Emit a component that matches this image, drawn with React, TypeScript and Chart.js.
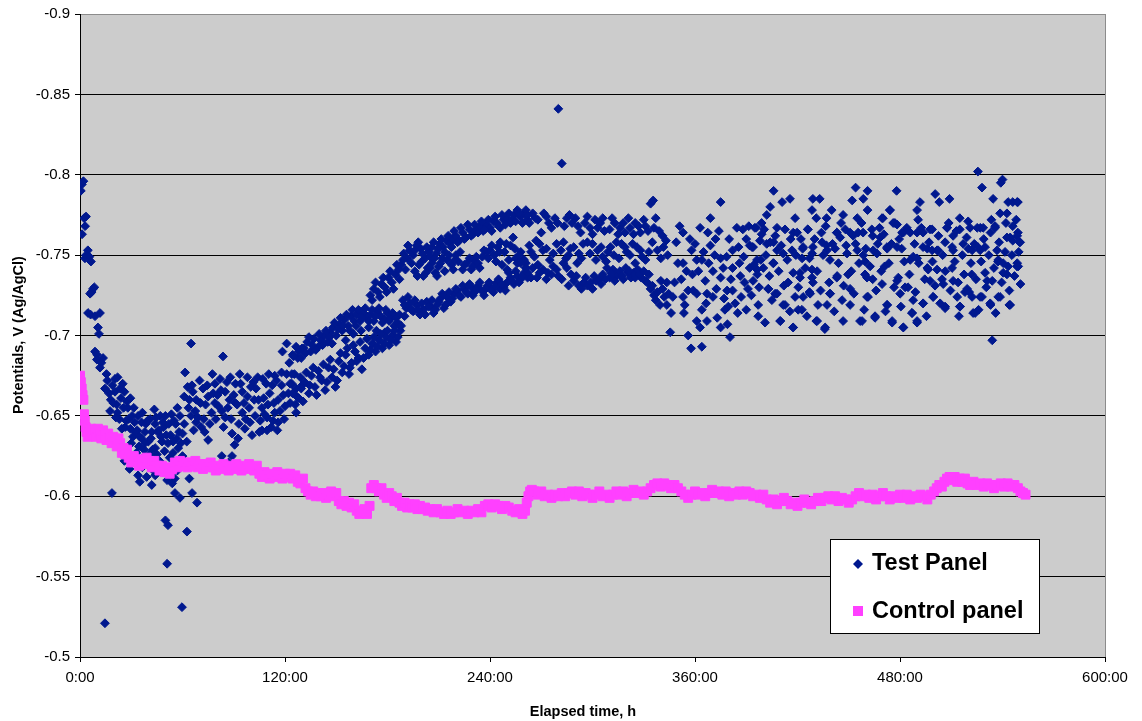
import React, { useEffect, useRef } from "react";
import { Chart, registerables } from "chart.js";

Chart.register(...registerables);

type Pt = [number, number];

// Elapsed time (h), potential (V vs Ag/AgCl)
const testStart: Pt[] = [
  [1.1,-0.794],[0.5,-0.790],[2.0,-0.796],[2.4,-0.773],[3.5,-0.774],[3.0,-0.768],[1.2,-0.763],[4.6,-0.753],
  [3.5,-0.750],[2.9,-0.748],[5.5,-0.749],[6.4,-0.746],[7.6,-0.729],[6.8,-0.727],[5.9,-0.726],[8.4,-0.730],
  [4.7,-0.714],[6.2,-0.713],[8.8,-0.712],[11.7,-0.714],[10.5,-0.705],[11.1,-0.701],[8.8,-0.690],[10.0,-0.688],
  [13.5,-0.686],[9.9,-0.685],[11.7,-0.680],[12.5,-0.683],
];

const testDip: Pt[] = [
  [14.6,-0.667],[22.0,-0.674],[25.0,-0.670],[20.5,-0.665],[24.0,-0.661],[28.0,-0.655],[17.6,-0.653],[22.0,-0.652],
  [27.0,-0.647],[32.0,-0.646],[36.0,-0.646],[29.5,-0.642],[38.0,-0.640],[47.0,-0.650],[44.0,-0.645],[42.0,-0.640],
  [45.5,-0.640],[36.0,-0.636],[40.0,-0.634],[44.0,-0.630],[48.0,-0.634],[54.5,-0.634],[60.0,-0.639],[57.5,-0.630],
  [60.0,-0.625],[29.0,-0.617],[34.0,-0.613],[35.0,-0.609],[42.0,-0.607],[39.0,-0.612],[44.0,-0.613],[18.7,-0.602],
  [54.0,-0.608],[55.5,-0.611],[55.6,-0.602],[58.5,-0.599],[64.0,-0.611],[65.6,-0.602],[68.5,-0.596],[50.0,-0.585],
  [51.5,-0.582],[62.6,-0.578],[51.0,-0.558],[59.7,-0.531],[14.6,-0.521],
  [16.0,-0.672],[19.0,-0.669],[18.0,-0.660],[21.5,-0.657],[25.5,-0.655],[23.0,-0.648],[26.5,-0.643],[30.5,-0.650],
  [33.5,-0.641],[31.0,-0.637],[34.5,-0.631],[37.5,-0.629],[40.5,-0.626],[38.5,-0.645],[41.0,-0.648],[43.5,-0.654],
  [46.0,-0.641],[49.0,-0.643],[50.5,-0.638],[52.0,-0.645],[53.5,-0.651],[56.0,-0.645],[58.0,-0.640],[49.5,-0.628],
  [52.5,-0.624],[46.5,-0.622],[32.5,-0.620],[36.5,-0.618],[45.5,-0.618],[48.5,-0.615],[51.0,-0.610],[57.0,-0.616],
  [62.0,-0.620],[26.0,-0.622],[65.0,-0.695],[83.7,-0.687],
];

const testFillDip: Pt[] = [
  [15.5,-0.676],[17.0,-0.664],[19.5,-0.658],[20.5,-0.673],[21.0,-0.649],[23.5,-0.667],[24.5,-0.642],[26.0,-0.665],
  [27.5,-0.659],[28.5,-0.648],[29.5,-0.661],[30.0,-0.633],[31.5,-0.655],[32.5,-0.640],[33.0,-0.627],[34.0,-0.650],
  [35.0,-0.637],[36.5,-0.652],[37.0,-0.624],[38.0,-0.633],[39.5,-0.647],[40.0,-0.619],[41.5,-0.636],[42.5,-0.629],
  [43.0,-0.616],[44.5,-0.649],[45.0,-0.626],[47.5,-0.637],[48.5,-0.646],[50.0,-0.650],[51.5,-0.633],[53.0,-0.638],
  [54.5,-0.627],[55.0,-0.647],[56.5,-0.636],[58.5,-0.650],[59.0,-0.633],[61.0,-0.645],[62.5,-0.634],[63.5,-0.655],
];

const testRecovery: Pt[] = [
  [65.5,-0.669],[72.0,-0.667],[75.0,-0.662],[79.0,-0.670],[82.0,-0.673],[85.0,-0.665],[91.0,-0.670],[95.0,-0.665],
  [98.0,-0.674],[104.0,-0.674],[109.0,-0.670],[114.0,-0.675],[118.0,-0.669],[122.0,-0.664],[127.0,-0.662],[130.0,-0.669],
  [61.0,-0.662],[57.0,-0.655],[65.0,-0.650],[68.0,-0.646],[71.0,-0.643],[75.0,-0.635],[79.0,-0.658],[83.0,-0.653],
  [85.0,-0.649],[91.0,-0.658],[89.0,-0.639],[92.5,-0.636],[95.0,-0.652],[98.0,-0.662],[102.0,-0.660],[106.5,-0.655],
  [109.5,-0.649],[106.5,-0.641],[100.7,-0.638],[114.0,-0.652],[116.0,-0.646],[112.0,-0.643],[83.0,-0.625],[89.0,-0.625],
  [87.0,-0.621],[61.5,-0.677],[118.0,-0.677],[113.0,-0.647],[109.5,-0.641],[105.0,-0.640],
  [68.0,-0.660],[73.5,-0.657],[77.0,-0.652],[80.5,-0.663],[87.5,-0.660],[93.0,-0.645],[97.0,-0.648],[100.0,-0.668],
  [103.0,-0.667],[107.0,-0.673],[111.0,-0.664],[116.0,-0.660],[120.0,-0.656],[124.0,-0.670],[70.0,-0.672],[77.5,-0.676],
  [88.0,-0.674],[93.5,-0.676],[63.0,-0.668],[66.5,-0.641],
  [118.5,-0.690],[121.0,-0.695],[124.5,-0.688],[127.5,-0.686],[130.0,-0.692],[122.5,-0.683],
];

const testFillRecovery: Pt[] = [
  [64.0,-0.660],[66.0,-0.665],[67.5,-0.653],[69.0,-0.649],[70.5,-0.658],[72.5,-0.648],[73.0,-0.640],[74.5,-0.669],
  [76.0,-0.645],[78.0,-0.664],[79.5,-0.648],[81.0,-0.656],[82.5,-0.666],[84.0,-0.643],[86.0,-0.671],[86.5,-0.655],
  [88.5,-0.648],[90.0,-0.663],[90.5,-0.632],[92.0,-0.657],[94.0,-0.670],[96.0,-0.658],[96.5,-0.642],[99.0,-0.655],
  [99.5,-0.646],[101.5,-0.671],[102.5,-0.650],[104.5,-0.660],[105.5,-0.647],[107.5,-0.661],[108.0,-0.651],[110.0,-0.657],
  [110.5,-0.676],[112.5,-0.669],[113.5,-0.658],[115.0,-0.672],[115.5,-0.641],[117.0,-0.653],[119.0,-0.663],[119.5,-0.648],
  [121.0,-0.676],[123.0,-0.658],[125.5,-0.676],[126.5,-0.652],
];

const testRise: Pt[] = [
  [125.0,-0.687],[128.0,-0.690],[131.0,-0.692],[133.0,-0.696],[135.0,-0.690],[137.0,-0.698],[139.5,-0.693],[141.0,-0.697],
  [143.0,-0.700],[145.0,-0.696],[146.5,-0.702],[148.0,-0.705],[150.0,-0.700],[152.0,-0.707],[153.5,-0.703],[155.0,-0.710],
  [157.0,-0.706],[158.5,-0.712],[160.5,-0.709],[162.0,-0.713],[164.0,-0.709],[166.0,-0.714],[168.0,-0.711],[170.0,-0.713],
  [172.0,-0.709],[174.0,-0.715],[176.0,-0.712],[178.0,-0.710],[180.0,-0.714],[182.0,-0.711],[184.0,-0.706],[186.0,-0.708],
  [187.5,-0.703],[155.5,-0.697],[160.0,-0.701],[164.5,-0.703],[169.0,-0.705],[173.5,-0.703],[178.5,-0.702],[183.0,-0.700],
  [187.0,-0.706],
  [123.0,-0.670],[124.5,-0.664],[126.0,-0.657],[128.0,-0.661],[129.5,-0.667],[131.5,-0.671],[134.0,-0.664],[135.5,-0.675],
  [137.5,-0.668],[139.5,-0.678],[141.5,-0.672],[143.5,-0.666],[145.5,-0.680],[147.5,-0.674],[149.5,-0.668],[151.5,-0.684],
  [153.5,-0.677],[155.5,-0.688],[157.5,-0.676],[159.0,-0.683],[161.0,-0.690],[163.0,-0.686],[165.0,-0.679],[167.0,-0.692],
  [169.0,-0.688],[171.0,-0.695],[173.0,-0.690],[175.0,-0.697],[177.0,-0.692],[179.0,-0.699],[181.0,-0.694],[183.0,-0.700],
  [185.0,-0.696],
  [170.0,-0.725],[172.0,-0.729],[174.5,-0.727],[176.5,-0.732],[178.5,-0.730],[180.5,-0.736],[182.5,-0.733],[184.5,-0.738],
  [186.5,-0.741],[188.0,-0.744],[189.5,-0.751],[191.5,-0.748],[193.0,-0.753],
];

const testFillRise: Pt[] = [
  [126.5,-0.693],[129.5,-0.686],[132.0,-0.689],[134.0,-0.699],[136.0,-0.694],[138.0,-0.691],[140.0,-0.701],[142.0,-0.694],
  [144.0,-0.703],[146.0,-0.699],[147.5,-0.695],[149.0,-0.708],[151.0,-0.704],[152.5,-0.711],[154.0,-0.706],[156.0,-0.713],
  [158.0,-0.703],[159.5,-0.716],[161.5,-0.706],[163.0,-0.716],[165.0,-0.711],[167.0,-0.717],[169.0,-0.709],[171.0,-0.716],
  [173.0,-0.712],[175.0,-0.717],[177.0,-0.708],[179.0,-0.716],[181.0,-0.709],[183.0,-0.714],[185.0,-0.711],[187.0,-0.713],
  [124.0,-0.676],[126.5,-0.667],[129.0,-0.674],[130.5,-0.659],[132.5,-0.677],[134.5,-0.669],[136.5,-0.680],[138.5,-0.663],
  [140.5,-0.674],[142.5,-0.682],[144.5,-0.671],[146.5,-0.685],[148.5,-0.679],[150.5,-0.672],[152.5,-0.689],[154.5,-0.681],
  [156.5,-0.692],[158.0,-0.680],[160.0,-0.694],[162.0,-0.684],[164.0,-0.696],[166.0,-0.686],[168.0,-0.698],[170.0,-0.691],
  [172.0,-0.699],[174.0,-0.693],[176.0,-0.701],[178.0,-0.695],[180.0,-0.703],[182.0,-0.697],[184.0,-0.703],[186.0,-0.699],
  [188.0,-0.706],[190.0,-0.712],
  [171.0,-0.722],[173.0,-0.733],[175.5,-0.724],[177.5,-0.736],[179.5,-0.727],[181.5,-0.740],[183.5,-0.729],[185.5,-0.744],
  [187.0,-0.735],[189.0,-0.747],[190.5,-0.741],[192.0,-0.756],[194.0,-0.745],
];

const testBands: Pt[] = [
  [195.0,-0.750],[197.0,-0.756],[199.5,-0.754],[202.0,-0.748],[204.0,-0.752],[206.0,-0.755],[208.5,-0.751],[210.5,-0.757],
  [212.5,-0.755],[214.5,-0.759],[216.5,-0.757],[218.0,-0.760],[220.0,-0.762],[222.0,-0.759],[224.0,-0.764],[226.0,-0.761],
  [228.0,-0.766],[230.0,-0.763],[232.0,-0.766],[234.0,-0.768],[236.0,-0.765],[238.0,-0.769],[240.0,-0.767],[242.0,-0.771],
  [244.0,-0.770],[246.0,-0.767],[248.0,-0.772],[250.0,-0.773],[252.0,-0.770],[254.0,-0.775],[256.0,-0.778],[258.0,-0.774],
  [260.0,-0.776],[262.0,-0.772],
  [196.0,-0.740],[198.5,-0.744],[201.0,-0.737],[203.5,-0.742],[206.0,-0.745],[208.0,-0.739],[210.0,-0.743],[212.0,-0.748],
  [215.0,-0.747],[217.5,-0.744],[220.0,-0.750],[221.5,-0.746],[224.0,-0.741],[226.5,-0.745],[229.0,-0.741],[231.0,-0.746],
  [233.0,-0.745],[235.5,-0.749],[238.0,-0.752],[240.0,-0.753],[242.5,-0.750],[244.5,-0.755],[246.0,-0.758],[248.5,-0.752],
  [250.0,-0.741],[252.0,-0.756],[253.5,-0.761],[255.0,-0.748],[256.0,-0.745],[258.0,-0.752],[259.5,-0.747],
  [189.0,-0.722],[191.0,-0.717],[193.0,-0.720],[195.0,-0.715],[197.0,-0.719],[199.0,-0.713],[201.0,-0.716],[203.0,-0.721],
  [205.0,-0.718],[207.0,-0.714],[209.0,-0.719],[211.0,-0.723],[213.0,-0.717],[215.0,-0.724],[217.0,-0.721],[219.0,-0.726],
  [221.0,-0.728],[223.0,-0.724],[225.0,-0.729],[227.0,-0.726],[229.0,-0.730],[231.0,-0.727],[233.0,-0.731],[235.0,-0.728],
  [236.5,-0.725],[238.5,-0.731],[240.0,-0.730],[242.0,-0.727],[244.0,-0.733],[246.0,-0.729],[248.0,-0.730],[250.0,-0.733],
  [252.0,-0.736],[254.0,-0.732],[256.0,-0.737],[258.0,-0.735],[260.0,-0.739],[262.0,-0.736],
];

const testFillBands: Pt[] = [
  [196.0,-0.753],[198.0,-0.758],[200.5,-0.751],[203.0,-0.755],[205.0,-0.749],[207.0,-0.758],[209.5,-0.754],[211.5,-0.760],
  [213.5,-0.752],[215.5,-0.762],[217.5,-0.755],[219.0,-0.765],[221.0,-0.758],[223.0,-0.767],[225.0,-0.760],[227.0,-0.769],
  [229.0,-0.762],[231.0,-0.769],[233.0,-0.764],[235.0,-0.771],[237.0,-0.766],[239.0,-0.772],[241.0,-0.765],[243.0,-0.774],
  [245.0,-0.768],[247.0,-0.775],[249.0,-0.769],[251.0,-0.776],[253.0,-0.772],[255.0,-0.771],[257.0,-0.775],[259.0,-0.770],
  [261.0,-0.778],
  [197.5,-0.737],[200.0,-0.746],[202.5,-0.739],[205.0,-0.742],[207.5,-0.748],[209.0,-0.737],[211.0,-0.745],[213.5,-0.740],
  [216.0,-0.750],[218.5,-0.741],[219.5,-0.747],[222.5,-0.752],[225.0,-0.744],[228.0,-0.748],[230.0,-0.743],[232.0,-0.749],
  [234.0,-0.742],[236.5,-0.753],[239.0,-0.748],[241.0,-0.756],[243.5,-0.746],[245.5,-0.752],[247.0,-0.744],[249.5,-0.757],
  [251.0,-0.747],[254.5,-0.754],[257.0,-0.750],[261.0,-0.745],
  [190.0,-0.719],[192.0,-0.724],[194.0,-0.716],[196.0,-0.722],[198.0,-0.716],[200.0,-0.720],[202.0,-0.713],[204.0,-0.718],
  [206.0,-0.722],[208.0,-0.716],[210.0,-0.721],[212.0,-0.726],[214.0,-0.719],[216.0,-0.727],[218.0,-0.723],[220.0,-0.729],
  [222.0,-0.725],[224.0,-0.731],[226.0,-0.727],[228.0,-0.732],[230.0,-0.725],[232.0,-0.729],[234.0,-0.733],[237.5,-0.729],
  [239.5,-0.733],[241.0,-0.728],[243.0,-0.731],[245.0,-0.735],[247.0,-0.732],[249.0,-0.728],[251.0,-0.739],[253.0,-0.734],
  [255.0,-0.740],[257.0,-0.733],[259.0,-0.737],[261.0,-0.742],
];

const testPeak: Pt[] = [
  [280.0,-0.841],[282.0,-0.807],
  [257.0,-0.776],[262.0,-0.775],[265.0,-0.776],[268.0,-0.772],[270.0,-0.764],[273.0,-0.774],[276.0,-0.767],[278.0,-0.773],
  [285.0,-0.773],[288.0,-0.770],[290.0,-0.773],[293.0,-0.764],[295.5,-0.770],[298.5,-0.767],[301.5,-0.772],[304.5,-0.770],
  [307.0,-0.765],[310.0,-0.766],[313.0,-0.770],[316.0,-0.767],[319.0,-0.764],[322.0,-0.767],[325.0,-0.770],[328.0,-0.764],
  [331.0,-0.768],[334.0,-0.782],[335.5,-0.784],[337.0,-0.773],[336.0,-0.767],[341.0,-0.762],[339.0,-0.765],
  [260.0,-0.747],[264.0,-0.752],[267.0,-0.759],[269.0,-0.757],[271.0,-0.753],[275.0,-0.747],[279.0,-0.757],[281.5,-0.753],
  [284.5,-0.748],[287.0,-0.754],[289.0,-0.755],[292.0,-0.751],[294.5,-0.757],[297.0,-0.758],[300.0,-0.757],[303.0,-0.753],
  [306.0,-0.749],[309.0,-0.752],[310.5,-0.755],[314.0,-0.758],[317.0,-0.757],[320.0,-0.752],[323.5,-0.757],[326.0,-0.755],
  [329.0,-0.749],[331.0,-0.747],[333.0,-0.752],[338.0,-0.753],[341.5,-0.755],[344.0,-0.750],
  [258.0,-0.745],[262.0,-0.739],[265.0,-0.742],[267.5,-0.736],[271.0,-0.741],[274.0,-0.739],[277.0,-0.743],[280.0,-0.737],
  [283.0,-0.745],[285.0,-0.742],[287.5,-0.738],[289.0,-0.734],[292.0,-0.731],[295.0,-0.733],[297.0,-0.731],[300.0,-0.729],
  [302.0,-0.734],[304.0,-0.735],[306.0,-0.738],[308.5,-0.742],[310.0,-0.736],[312.0,-0.741],[314.0,-0.737],[316.0,-0.740],
  [318.0,-0.735],[320.5,-0.739],[322.5,-0.736],[324.0,-0.739],[326.5,-0.741],[328.5,-0.736],[331.0,-0.734],[333.0,-0.738],
  [334.0,-0.729],[336.0,-0.725],[338.0,-0.727],[340.0,-0.734],[343.5,-0.733],[339.5,-0.719],[343.5,-0.719],[342.0,-0.724],
  [345.5,-0.702],
];

const testFillPeak: Pt[] = [
  [263.0,-0.770],[266.5,-0.773],[271.5,-0.776],[274.5,-0.770],[279.5,-0.770],[283.5,-0.768],[286.5,-0.775],[291.5,-0.768],
  [297.0,-0.774],[300.0,-0.763],[303.0,-0.767],[306.0,-0.773],[311.5,-0.773],[315.0,-0.763],[318.0,-0.770],[321.0,-0.773],
  [324.0,-0.763],[327.0,-0.768],[330.0,-0.772],[332.5,-0.765],
  [263.0,-0.756],[266.0,-0.749],[268.0,-0.744],[273.0,-0.754],[277.0,-0.751],[283.0,-0.758],[286.0,-0.750],[291.0,-0.745],
  [293.5,-0.748],[298.5,-0.751],[302.0,-0.747],[305.0,-0.755],[308.0,-0.746],[312.5,-0.750],[315.5,-0.748],[319.0,-0.755],
  [322.0,-0.750],[325.0,-0.745],[328.0,-0.753],[335.0,-0.758],[340.0,-0.748],[343.0,-0.759],
  [261.0,-0.742],[264.0,-0.736],[269.0,-0.739],[273.0,-0.735],[276.0,-0.738],[279.0,-0.741],[282.0,-0.735],[286.0,-0.731],
  [290.5,-0.737],[293.5,-0.729],[296.0,-0.736],[299.0,-0.733],[301.0,-0.737],[305.0,-0.732],[307.5,-0.735],[311.0,-0.739],
  [313.0,-0.734],[317.0,-0.737],[319.5,-0.742],[321.5,-0.740],[325.0,-0.736],[327.5,-0.738],[330.0,-0.740],[332.0,-0.733],
  [335.0,-0.731],[337.0,-0.722],[341.0,-0.729],[344.5,-0.726],
];

const testScatterA: Pt[] = [
  [353.0,-0.764],[363.0,-0.767],[367.5,-0.764],[369.0,-0.773],[375.0,-0.783],[369.0,-0.756],[358.0,-0.753],[364.0,-0.747],
  [353.0,-0.745],[355.0,-0.740],[361.0,-0.747],[375.0,-0.748],[378.5,-0.749],[382.0,-0.753],[384.5,-0.767],[388.0,-0.766],
  [392.0,-0.756],[394.0,-0.755],[395.0,-0.767],[382.0,-0.742],[386.0,-0.745],[392.0,-0.742],[370.5,-0.740],[375.0,-0.736],
  [359.0,-0.728],[361.0,-0.726],[366.0,-0.734],[367.0,-0.726],[370.5,-0.724],[378.8,-0.728],[382.0,-0.728],[353.0,-0.724],
  [354.0,-0.719],[353.5,-0.714],[364.0,-0.716],[361.0,-0.709],[367.0,-0.709],[363.0,-0.705],[373.0,-0.711],[375.0,-0.705],
  [379.0,-0.707],[379.5,-0.718],[385.0,-0.714],[390.0,-0.716],[380.5,-0.699],[364.0,-0.693],[357.7,-0.692],[348.0,-0.733],
  [347.0,-0.724],[350.0,-0.745],[346.0,-0.714],[389.0,-0.733],[396.5,-0.738],[398.5,-0.747],[393.0,-0.725],[397.0,-0.712],
  [387.0,-0.724],[372.0,-0.760],[357.0,-0.760],[390.0,-0.760],[377.5,-0.716],[356.0,-0.700],[399.0,-0.770],
  [393.4,-0.755],[396.3,-0.747],[395.8,-0.767],[399.0,-0.763],[396.3,-0.741],[394.0,-0.734],[397.0,-0.719],
];

const testScatterB: Pt[] = [
  [525.6,-0.802],[540.0,-0.797],[539.0,-0.795],[528.0,-0.792],[406.0,-0.790],[454.0,-0.792],[461.0,-0.790],[478.0,-0.790],
  [500.6,-0.788],[503.0,-0.783],[509.0,-0.785],[429.0,-0.785],[433.0,-0.785],[415.6,-0.785],[411.0,-0.783],[452.0,-0.784],
  [458.5,-0.785],[491.7,-0.783],[534.5,-0.785],[546.0,-0.783],[549.0,-0.783],[404.0,-0.780],[402.0,-0.775],[428.5,-0.778],
  [440.0,-0.778],[446.7,-0.775],[461.0,-0.778],[474.0,-0.778],[490.0,-0.778],[538.6,-0.776],[542.6,-0.776],[418.6,-0.773],
  [431.0,-0.773],[437.0,-0.773],[455.0,-0.773],[470.0,-0.773],[477.0,-0.770],[490.6,-0.772],[515.0,-0.773],[535.7,-0.768],
  [546.0,-0.768],
  [400.5,-0.766],[408.0,-0.767],[412.7,-0.766],[417.5,-0.764],[426.0,-0.766],[434.0,-0.764],[443.0,-0.764],[448.0,-0.766],
  [455.5,-0.764],[464.0,-0.762],[468.0,-0.767],[476.0,-0.770],[482.0,-0.764],[490.0,-0.764],[497.6,-0.766],[507.5,-0.767],
  [515.0,-0.766],[521.0,-0.767],[527.0,-0.767],[533.0,-0.764],[542.6,-0.761],[549.0,-0.764],[550.0,-0.758],[402.0,-0.757],
  [406.0,-0.758],[423.0,-0.754],[429.0,-0.755],[437.0,-0.756],[442.0,-0.754],[449.0,-0.751],[455.0,-0.753],[458.5,-0.750],
  [466.5,-0.751],[472.5,-0.754],[481.0,-0.754],[487.7,-0.749],[496.0,-0.754],[501.7,-0.753],[510.5,-0.755],[520.0,-0.754],
  [525.6,-0.755],[536.8,-0.753],[546.0,-0.759],
  [408.0,-0.753],[411.6,-0.751],[416.8,-0.753],[423.3,-0.755],[422.7,-0.748],[428.6,-0.751],[434.4,-0.758],[437.3,-0.753],
  [445.0,-0.761],[452.6,-0.762],[459.6,-0.746],[464.3,-0.753],[468.4,-0.761],[472.4,-0.755],[478.3,-0.755],[486.0,-0.747],
  [490.0,-0.748],[493.5,-0.755],[498.8,-0.753],[502.3,-0.753],[506.4,-0.758],[511.1,-0.753],[517.0,-0.757],[522.2,-0.753],
  [526.9,-0.753],[529.8,-0.755],[537.5,-0.747],[540.4,-0.745],[544.5,-0.761],[548.6,-0.745],[404.0,-0.758],
  [419.8,-0.764],[426.0,-0.766],[443.0,-0.764],[450.8,-0.764],[458.4,-0.764],[469.5,-0.773],[474.2,-0.778],[478.3,-0.769],
  [481.2,-0.764],[486.0,-0.764],[493.5,-0.764],[498.8,-0.766],[507.6,-0.767],[511.1,-0.762],[519.9,-0.771],[525.2,-0.767],
  [528.7,-0.767],[535.7,-0.767],[543.3,-0.783],[548.6,-0.783],[548.6,-0.762],[550.3,-0.758],
];

const testScatterC: Pt[] = [
  [400.0,-0.742],[406.0,-0.745],[417.5,-0.739],[421.5,-0.736],[428.5,-0.741],[429.0,-0.733],[439.0,-0.747],[443.0,-0.736],
  [449.6,-0.738],[459.5,-0.738],[464.0,-0.735],[471.0,-0.743],[479.0,-0.736],[484.7,-0.730],[496.0,-0.742],[497.6,-0.734],
  [504.6,-0.735],[510.5,-0.742],[514.0,-0.733],[522.0,-0.738],[531.0,-0.734],[537.4,-0.746],[542.6,-0.738],[548.5,-0.743],
  [403.0,-0.729],[408.0,-0.726],[412.7,-0.719],[410.0,-0.709],[401.0,-0.708],[417.5,-0.705],[418.6,-0.724],[422.6,-0.716],
  [427.0,-0.727],[432.0,-0.719],[431.0,-0.709],[436.0,-0.704],[439.0,-0.726],[446.7,-0.709],[450.8,-0.719],[456.6,-0.709],
  [460.7,-0.724],[465.4,-0.712],[472.5,-0.719],[475.4,-0.709],[482.0,-0.705],[487.0,-0.714],[490.0,-0.709],[493.5,-0.720],
  [499.4,-0.724],[506.4,-0.717],[515.0,-0.718],[518.0,-0.727],[522.8,-0.714],[528.0,-0.724],[533.0,-0.719],[538.6,-0.724],
  [544.0,-0.719],[534.0,-0.697],
  [405.7,-0.745],[402.8,-0.729],[406.9,-0.726],[411.6,-0.719],[409.8,-0.709],[417.4,-0.705],[414.5,-0.733],[421.5,-0.739],
  [423.3,-0.724],[427.4,-0.726],[420.4,-0.716],[428.5,-0.736],[431.5,-0.709],[436.2,-0.705],[437.3,-0.719],[439.1,-0.726],
  [443.2,-0.737],[446.1,-0.722],[450.8,-0.729],[457.8,-0.709],[460.7,-0.736],[461.3,-0.724],[465.4,-0.711],[469.5,-0.732],
  [472.4,-0.719],[478.3,-0.734],[480.1,-0.726],[475.4,-0.708],[483.0,-0.730],[487.7,-0.722],[487.1,-0.714],[490.0,-0.708],
  [481.9,-0.705],[493.5,-0.720],[496.5,-0.741],[499.4,-0.724],[501.7,-0.741],[506.4,-0.718],[505.3,-0.732],[511.1,-0.734],
  [513.5,-0.724],[515.2,-0.718],[519.3,-0.729],[522.2,-0.724],[524.0,-0.714],[526.9,-0.724],[529.8,-0.739],[534.0,-0.734],
  [532.8,-0.720],[537.5,-0.724],[540.4,-0.739],[544.5,-0.719],[543.3,-0.743],[549.2,-0.743],
];

const testFillLate: Pt[] = [
  [349.0,-0.758],[351.0,-0.768],[352.0,-0.735],[356.0,-0.728],[358.5,-0.738],[360.0,-0.757],[362.0,-0.740],[365.0,-0.752],
  [366.5,-0.720],[368.0,-0.745],[371.5,-0.750],[372.5,-0.729],[374.0,-0.765],[376.5,-0.742],[377.0,-0.723],[380.0,-0.760],
  [381.0,-0.735],[383.5,-0.720],[385.5,-0.755],[386.5,-0.737],[388.5,-0.749],[391.0,-0.729],[391.5,-0.768],[394.5,-0.744],
  [397.5,-0.730],[398.0,-0.759],
  [401.5,-0.750],[403.5,-0.737],[405.0,-0.722],[407.0,-0.762],[409.0,-0.740],[410.5,-0.756],[412.0,-0.731],[414.0,-0.747],
  [415.5,-0.715],[416.0,-0.760],[419.0,-0.750],[420.5,-0.730],[422.0,-0.760],[424.5,-0.742],[425.5,-0.712],[427.0,-0.748],
  [430.0,-0.760],[431.5,-0.740],[433.5,-0.728],[435.0,-0.750],[436.5,-0.768],[438.5,-0.733],[440.5,-0.757],[441.5,-0.715],
  [444.0,-0.745],[445.5,-0.770],[447.0,-0.731],[448.5,-0.756],[451.5,-0.740],[453.0,-0.726],[454.0,-0.757],[456.0,-0.745],
  [457.5,-0.770],[459.0,-0.716],[460.0,-0.754],[462.5,-0.743],[463.5,-0.766],[466.0,-0.728],[467.0,-0.757],[469.0,-0.740],
  [470.5,-0.763],[471.5,-0.715],[473.5,-0.745],[475.0,-0.757],[476.5,-0.730],[479.5,-0.760],[480.5,-0.718],[482.5,-0.746],
  [484.0,-0.767],[485.5,-0.738],[488.5,-0.757],[489.0,-0.727],[491.0,-0.745],[492.5,-0.767],[494.5,-0.735],[495.5,-0.712],
  [497.0,-0.758],[499.0,-0.746],[500.5,-0.731],[502.5,-0.762],[503.5,-0.720],[505.0,-0.750],[506.5,-0.740],[508.5,-0.770],
  [509.5,-0.728],[512.0,-0.746],[513.0,-0.765],[514.5,-0.712],[516.5,-0.750],[517.5,-0.738],[519.0,-0.761],[520.5,-0.727],
  [521.5,-0.745],[523.5,-0.757],[524.5,-0.735],[526.0,-0.716],[527.5,-0.746],[529.0,-0.760],[530.5,-0.730],[532.0,-0.750],
  [533.5,-0.772],[535.0,-0.742],[536.0,-0.714],[538.0,-0.758],[539.5,-0.733],[541.5,-0.752],[542.0,-0.770],[544.0,-0.728],
  [545.5,-0.750],[547.0,-0.737],[548.0,-0.772],[549.5,-0.752],[550.5,-0.732],
];

const controlEarly: Pt[] = [
  [0.0,-0.675],[0.5,-0.671],[1.0,-0.667],[1.5,-0.663],[2.0,-0.660],[2.3,-0.651],[2.8,-0.647],[3.3,-0.643],[3.8,-0.640],[4.5,-0.637],
  [5.5,-0.640],[6.5,-0.642],[7.5,-0.638],[8.5,-0.641],[9.5,-0.637],[10.5,-0.642],[11.5,-0.639],[12.5,-0.636],[13.5,-0.641],[14.5,-0.638],[15.5,-0.635],
  [16.5,-0.639],[17.5,-0.636],[18.5,-0.633],[19.5,-0.637],[20.5,-0.634],[21.5,-0.631],[22.5,-0.636],[23.5,-0.633],[24.5,-0.627],[25.5,-0.630],[26.5,-0.626],[27.5,-0.629],
  [28.5,-0.624],[30.0,-0.621],[31.5,-0.625],[33.0,-0.622],[34.5,-0.619],[36.0,-0.623],[37.5,-0.620],[39.0,-0.624],[40.5,-0.621],[42.0,-0.618],[43.5,-0.622],[45.0,-0.619],
  [46.5,-0.616],[48.0,-0.619],[49.5,-0.615],[51.0,-0.618],[52.5,-0.614],[54.0,-0.617],[55.5,-0.621],[57.0,-0.618],[58.5,-0.622],[60.0,-0.619],[61.5,-0.621],[63.0,-0.618],[64.5,-0.621],[66.0,-0.619],[67.5,-0.622],[69.0,-0.618],
  [70.5,-0.620],[72.0,-0.617],[73.5,-0.620],[75.0,-0.618],[76.5,-0.621],[78.0,-0.618],[79.5,-0.616],[81.0,-0.619],[82.5,-0.617],[84.0,-0.620],[85.5,-0.618],[87.0,-0.616],[88.5,-0.619],[90.0,-0.617],[91.5,-0.620],[93.0,-0.618],[94.5,-0.616],[96.0,-0.619],[97.5,-0.617],[99.0,-0.620],[100.5,-0.618],[102.0,-0.616],[103.5,-0.619],
  [105.0,-0.614],[106.5,-0.612],[108.0,-0.615],[109.5,-0.613],[111.0,-0.611],[112.5,-0.614],[114.0,-0.612],[115.5,-0.615],[117.0,-0.613],[118.5,-0.611],[120.0,-0.614],[121.5,-0.612],[123.0,-0.614],[124.5,-0.611],[126.0,-0.613],[127.5,-0.609],
];

const controlMiddle: Pt[] = [
  [129.0,-0.608],[130.5,-0.611],[132.0,-0.605],[133.5,-0.603],[135.0,-0.601],[136.5,-0.603],[138.0,-0.600],[139.5,-0.602],[141.0,-0.600],[142.5,-0.602],[144.0,-0.599],[145.5,-0.601],[147.0,-0.603],[148.5,-0.600],[150.0,-0.602],
  [151.5,-0.597],[153.0,-0.595],[154.5,-0.597],[156.0,-0.594],[157.5,-0.596],[159.0,-0.593],[160.5,-0.595],[162.0,-0.591],[163.5,-0.589],[165.0,-0.590],[166.5,-0.592],[168.0,-0.589],[169.5,-0.594],
  [170.5,-0.605],[172.0,-0.607],[173.5,-0.605],[175.0,-0.603],[176.5,-0.605],
  [178.0,-0.601],[179.5,-0.599],[181.0,-0.602],[182.5,-0.600],[184.0,-0.597],[185.5,-0.599],[187.0,-0.596],
  [188.5,-0.594],[190.0,-0.596],[191.5,-0.593],[193.0,-0.595],[194.5,-0.593],[196.0,-0.595],[197.5,-0.592],[199.0,-0.594],[200.5,-0.592],[202.0,-0.593],[203.5,-0.591],[205.0,-0.592],
  [207.0,-0.590],[209.0,-0.592],[211.0,-0.590],[213.0,-0.589],[215.0,-0.591],[217.0,-0.589],[219.0,-0.590],[221.0,-0.592],[223.0,-0.590],[225.0,-0.591],[227.0,-0.589],[229.0,-0.591],[231.0,-0.590],[233.0,-0.592],[235.0,-0.590],
  [237.0,-0.594],[239.0,-0.595],[241.0,-0.593],[243.0,-0.595],[245.0,-0.594],[247.0,-0.592],[249.0,-0.594],[251.0,-0.593],
  [253.0,-0.591],[255.0,-0.590],[257.0,-0.592],[259.0,-0.589],[260.5,-0.591],[261.5,-0.596],[262.5,-0.600],[263.5,-0.603],[264.5,-0.604],
];

const controlLate: Pt[] = [
  [266.0,-0.603],[268.0,-0.601],[270.0,-0.603],[272.0,-0.600],[274.0,-0.601],[276.0,-0.599],[278.0,-0.601],[280.0,-0.600],[282.0,-0.602],[284.0,-0.600],[286.0,-0.602],[288.0,-0.603],[290.0,-0.601],[292.0,-0.603],[294.0,-0.600],[296.0,-0.602],[298.0,-0.601],[300.0,-0.599],[302.0,-0.601],[304.0,-0.603],[306.0,-0.600],[308.0,-0.601],[310.0,-0.599],[312.0,-0.601],[314.0,-0.603],[316.0,-0.601],[318.0,-0.603],[320.0,-0.600],[322.0,-0.602],[324.0,-0.604],[326.0,-0.602],[328.0,-0.603],[330.0,-0.601],[332.0,-0.603],
  [334.0,-0.605],[336.0,-0.607],[338.0,-0.608],[340.0,-0.606],[342.0,-0.608],[344.0,-0.607],[346.0,-0.605],[348.0,-0.607],[350.0,-0.605],
  [352.0,-0.603],[354.0,-0.601],[356.0,-0.599],[358.0,-0.601],[360.0,-0.603],[362.0,-0.601],[364.0,-0.602],[366.0,-0.600],[368.0,-0.602],[370.0,-0.604],[372.0,-0.602],[374.0,-0.603],[376.0,-0.601],[378.0,-0.603],[380.0,-0.600],[382.0,-0.602],[384.0,-0.601],[386.0,-0.603],[388.0,-0.601],[390.0,-0.603],[392.0,-0.602],[394.0,-0.600],[396.0,-0.601],[398.0,-0.599],[400.0,-0.601],
  [402.0,-0.598],[404.0,-0.596],[406.0,-0.598],[408.0,-0.595],[410.0,-0.597],[412.0,-0.599],[414.0,-0.597],[416.0,-0.595],[418.0,-0.596],[420.0,-0.594],[422.0,-0.596],[424.0,-0.598],[426.0,-0.596],[428.0,-0.595],[430.0,-0.597],
  [432.0,-0.599],[434.0,-0.597],[436.0,-0.599],[438.0,-0.600],[440.0,-0.598],[442.0,-0.600],[444.0,-0.597],[446.0,-0.599],[448.0,-0.598],[450.0,-0.596],[452.0,-0.598],[454.0,-0.600],
  [456.0,-0.602],[458.0,-0.600],[460.0,-0.601],[462.0,-0.599],[464.0,-0.601],[466.0,-0.598],[468.0,-0.600],[470.0,-0.602],[472.0,-0.600],[474.0,-0.598],[476.0,-0.600],[478.0,-0.599],[480.0,-0.601],[482.0,-0.599],[484.0,-0.601],[486.0,-0.598],[488.0,-0.600],[490.0,-0.599],[492.0,-0.601],[494.0,-0.600],[496.0,-0.598],[498.0,-0.601],[500.0,-0.603],
  [501.5,-0.605],[503.0,-0.607],[504.5,-0.606],[506.0,-0.609],[507.5,-0.611],[509.0,-0.612],[510.5,-0.610],[512.0,-0.612],[513.5,-0.609],[515.0,-0.611],[516.5,-0.609],[518.0,-0.611],[519.5,-0.608],
  [521.0,-0.607],[523.0,-0.609],[525.0,-0.607],[527.0,-0.608],[529.0,-0.606],[531.0,-0.608],[533.0,-0.607],[535.0,-0.605],[537.0,-0.607],[539.0,-0.608],[541.0,-0.606],[543.0,-0.608],[545.0,-0.606],[547.0,-0.607],[549.0,-0.605],[550.5,-0.603],[552.0,-0.602],[553.5,-0.601],
];

const seriesNames = ["Test Panel", "Control panel"];
const xAxisTitle = "Elapsed time, h";
const yAxisTitle = "Potentials, V (Ag/AgCl)";
const xRange = [0, 600];
const xStep = 120;
const yRange = [-0.9, -0.5];
const yStep = 0.05;

const testPanel: Pt[] = [
  ...testStart, ...testDip, ...testFillDip, ...testRecovery, ...testFillRecovery, ...testRise, ...testFillRise,
  ...testBands, ...testFillBands, ...testPeak, ...testFillPeak, ...testScatterA, ...testScatterB, ...testScatterC,
  ...testFillLate,
];
const controlPanel: Pt[] = [...controlEarly, ...controlMiddle, ...controlLate];

const NAVY = "#00188f";
const PINK = "#ff40ff";
const FONT = "Arial, 'Liberation Sans', Helvetica, sans-serif";

export default function App() {
  const ref = useRef<HTMLCanvasElement | null>(null);

  useEffect(() => {
    if (!ref.current) return;

    const decor = {
      id: "decor",
      beforeDraw(chart: any) {
        const { ctx, chartArea: a } = chart;
        ctx.save();
        ctx.fillStyle = "#cccccc";
        ctx.fillRect(a.left, a.top, a.right - a.left, a.bottom - a.top);
        ctx.restore();
      },
      afterDraw(chart: any) {
        const { ctx, chartArea: a } = chart;
        ctx.save();
        ctx.strokeStyle = "#8c8c8c";
        ctx.lineWidth = 1;
        ctx.beginPath();
        ctx.moveTo(Math.round(a.right) + 0.5, a.top);
        ctx.lineTo(Math.round(a.right) + 0.5, a.bottom);
        ctx.stroke();

        ctx.fillStyle = "#000";
        ctx.font = `bold 14.5px ${FONT}`;
        ctx.textAlign = "center";
        ctx.textBaseline = "middle";
        ctx.fillText(xAxisTitle, 583, 712);
        ctx.translate(19, 335);
        ctx.rotate(-Math.PI / 2);
        ctx.fillText(yAxisTitle, 0, 0);
        ctx.restore();

        ctx.save();
        const lx = 830, ly = 539, lw = 209, lh = 94;
        ctx.fillStyle = "#ffffff";
        ctx.fillRect(lx, ly, lw, lh);
        ctx.strokeStyle = "#000";
        ctx.lineWidth = 1;
        ctx.strokeRect(lx + 0.5, ly + 0.5, lw, lh);
        ctx.fillStyle = NAVY;
        ctx.beginPath();
        ctx.moveTo(858, 559);
        ctx.lineTo(863, 564);
        ctx.lineTo(858, 569);
        ctx.lineTo(853, 564);
        ctx.closePath();
        ctx.fill();
        ctx.fillStyle = PINK;
        ctx.fillRect(853, 606, 10, 10);
        ctx.fillStyle = "#000";
        ctx.font = `bold 23.5px ${FONT}`;
        ctx.textAlign = "left";
        ctx.textBaseline = "middle";
        ctx.fillText(chart.data.datasets[0].label, 872, 564);
        ctx.fillText(chart.data.datasets[1].label, 872, 612);
        ctx.restore();
      },
    };

    const chart = new Chart(ref.current, {
      type: "scatter",
      data: {
        datasets: [
          {
            label: seriesNames[0],
            data: testPanel.map(([x, y]) => ({ x, y })),
            pointStyle: "rectRot",
            pointRadius: 4.4,
            pointBorderWidth: 1,
            backgroundColor: NAVY,
            borderColor: NAVY,
            order: 2,
          },
          {
            label: seriesNames[1],
            data: controlPanel.map(([x, y]) => ({ x, y })),
            pointStyle: "rect",
            pointRadius: 6.3,
            pointBorderWidth: 1,
            backgroundColor: PINK,
            borderColor: PINK,
            order: 1,
          },
        ],
      },
      options: {
        responsive: false,
        animation: false,
        events: [],
        layout: { padding: { top: 14, right: 37, left: 0, bottom: 0 } },
        plugins: {
          legend: { display: false },
          tooltip: { enabled: false },
        },
        scales: {
          x: {
            type: "linear",
            min: xRange[0],
            max: xRange[1],
            afterFit: (s: any) => { s.height = 64; },
            ticks: {
              stepSize: xStep,
              color: "#000",
              padding: 7,
              maxRotation: 0,
              font: { family: FONT, size: 15 },
              callback: (v: any) => `${v}:00`,
            },
            grid: {
              drawOnChartArea: false,
              drawTicks: true,
              tickLength: 5,
              tickColor: "#000",
            },
            border: { display: true, color: "#000", width: 1 },
          },
          y: {
            type: "linear",
            min: yRange[0],
            max: yRange[1],
            reverse: true,
            afterFit: (s: any) => { s.width = 80; },
            ticks: {
              stepSize: yStep,
              color: "#000",
              padding: 5,
              font: { family: FONT, size: 15 },
              callback: (v: any) => String(Number(Number(v).toFixed(2))),
            },
            grid: {
              color: (c: any) => (c.tick && Math.abs(c.tick.value - yRange[0]) < 1e-6 ? "#8c8c8c" : "#000"),
              lineWidth: 1,
              tickLength: 5,
              tickColor: "#000",
            },
            border: { display: true, color: "#000", width: 1 },
          },
        },
      },
      plugins: [decor],
    } as any);

    return () => chart.destroy();
  }, []);

  return (
    <div style={{ position: "absolute", left: 0, top: 0, width: 1142, height: 721, background: "#fff" }}>
      <canvas ref={ref} width={1142} height={721} style={{ display: "block" }} />
    </div>
  );
}
